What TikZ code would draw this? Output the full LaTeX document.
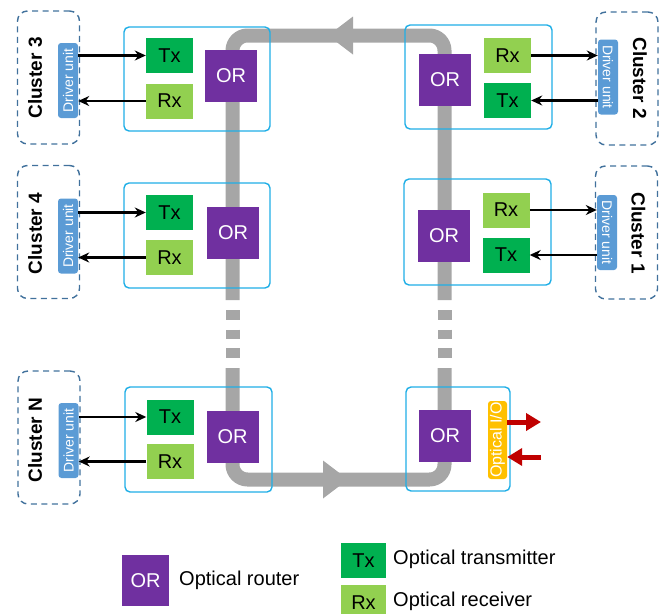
\documentclass[tikz,border=0pt]{standalone}
\usepackage{fontspec}
\usepackage{graphicx}
\setmainfont{Liberation Sans}
\usetikzlibrary{arrows.meta}

\definecolor{txgreen}{HTML}{00B050}
\definecolor{rxgreen}{HTML}{92D050}
\definecolor{orpurple}{HTML}{7030A0}
\definecolor{modcyan}{HTML}{1FAEE6}
\definecolor{dublue}{HTML}{5B9BD5}
\definecolor{clusterline}{HTML}{41719C}
\definecolor{ringgrey}{HTML}{A6A6A6}
\definecolor{ioamber}{HTML}{FFC000}
\definecolor{iored}{HTML}{C00000}

\tikzset{
  module/.style={draw=modcyan, line width=1.4pt, rounded corners=5pt, inner sep=0pt},
  txbox/.style={fill=txgreen, minimum width=47pt, minimum height=35pt, inner sep=0pt,
    font=\fontsize{20}{20}\selectfont},
  rxbox/.style={txbox, fill=rxgreen},
  orbox/.style={fill=orpurple, text=white, minimum width=52pt, minimum height=52pt, inner sep=0pt,
    font=\fontsize{20}{20}\selectfont},
  clusterbox/.style={draw=clusterline, line width=1.4pt, dash pattern=on 6pt off 4.5pt,
    rounded corners=10pt, minimum width=62pt, minimum height=133pt, inner sep=0pt},
  driver/.style={fill=dublue, text=white, rounded corners=3pt, minimum width=20pt,
    minimum height=75pt, inner sep=0pt, font=\fontsize{14}{14}\selectfont},
  clabel/.style={font=\bfseries\fontsize{19}{19}\selectfont, inner sep=0pt},
  blk/.style={line width=2.2pt, -{Stealth[length=11pt,width=10pt]}},
  ring/.style={draw=ringgrey, line width=14pt, rounded corners=15pt},
  ringdash/.style={draw=ringgrey, line width=14pt},
  redarrow/.style={draw=iored, line width=5pt, -{Triangle[length=15pt,width=17pt]}},
  legtext/.style={anchor=west, font=\fontsize{20}{20}\selectfont, inner sep=0pt},
}

\begin{document}
\begin{tikzpicture}[x=1pt,y=-1pt]
\useasboundingbox (0,0) rectangle (665,614);

% optical ring, drawn first so that routers sit on top of it
\draw[ring] (232.5,300) -- (232.5,35.5) -- (444.5,35.5) -- (444.5,300);
\draw[ring] (232.5,368) -- (232.5,479.5) -- (444.5,479.5) -- (444.5,368);
\foreach \x in {232.5,444.5}{
  \draw[ringdash] (\x,310) -- (\x,320);
  \draw[ringdash] (\x,329.5) -- (\x,338.5);
  \draw[ringdash] (\x,348) -- (\x,358);
}
% direction heads on the ring
\fill[ringgrey] (328,35.5) -- (353,16.5) -- (353,54.5) -- cycle;
\fill[ringgrey] (348,479.5) -- (323,460.5) -- (323,498.5) -- cycle;

% module outlines
\node[module, minimum width=146pt, minimum height=104pt] (mTL) at (197,79) {};
\node[module, minimum width=147pt, minimum height=104pt] (mTR) at (478.5,77) {};
\node[module, minimum width=146pt, minimum height=105pt] (mML) at (197,235.5) {};
\node[module, minimum width=147pt, minimum height=106pt] (mMR) at (477.5,232) {};
\node[module, minimum width=147pt, minimum height=105pt] (mBL) at (198.5,439.5) {};
\node[module, minimum width=104pt, minimum height=104pt] (mBR) at (458,439) {};

% optical routers
\node[orbox] (or3) at (231,76) {OR};
\node[orbox] (or2) at (445,80) {OR};
\node[orbox] (or4) at (233,233) {OR};
\node[orbox] (or1) at (444,235.5) {OR};
\node[orbox] (orN) at (232.5,437) {OR};
\node[orbox] (orIO) at (445,436) {OR};

% transmitters and receivers
\node[txbox] (tx3) at (169.5,55.5) {Tx};
\node[rxbox] (rx3) at (169.5,101) {Rx};
\node[txbox] (tx4) at (169.5,212.5) {Tx};
\node[rxbox] (rx4) at (169.5,257.5) {Rx};
\node[txbox] (txN) at (170,417) {Tx};
\node[rxbox] (rxN) at (170,461.5) {Rx};
\node[rxbox] (rx2) at (507.5,55.5) {Rx};
\node[txbox] (tx2) at (507.5,100.5) {Tx};
\node[rxbox] (rx1) at (506,210) {Rx};
\node[txbox] (tx1) at (506,255) {Tx};

% optical I/O port
\node[fill=ioamber, text=white, rounded corners=3pt, minimum width=19pt, minimum height=78pt,
  inner sep=0pt, font=\fontsize{16}{16}\selectfont] (oio) at (497.5,440)
  {\rotatebox{90}{Optical I/O}};
\coordinate (ioout) at (541,422);
\coordinate (ioin) at (541,457);
\draw[redarrow] (oio.east |- ioout) -- (ioout);
\draw[redarrow] (ioin) -- (oio.east |- ioin);

% clusters
\node[clusterbox] (c3) at (48.5,77.5) {};
\node[clusterbox] (c4) at (48.5,232) {};
\node[clusterbox] (cN) at (49,437.5) {};
\node[clusterbox] (c2) at (627,78.5) {};
\node[clusterbox] (c1) at (626.5,232.5) {};

\node[clabel] at (35,78) {\rotatebox{90}{Cluster 3}};
\node[clabel] at (35,233.5) {\rotatebox{90}{Cluster 4}};
\node[clabel] at (35,440) {\rotatebox{90}{Cluster N}};
\node[clabel] at (640,78) {\rotatebox{-90}{Cluster 2}};
\node[clabel] at (638.5,233) {\rotatebox{-90}{Cluster 1}};

\node[driver] (du3) at (68,80.5) {\rotatebox{90}{Driver unit}};
\node[driver] (du4) at (68,236) {\rotatebox{90}{Driver unit}};
\node[driver] (duN) at (68.5,440.5) {\rotatebox{90}{Driver unit}};
\node[driver] (du2) at (608,77) {\rotatebox{-90}{Driver unit}};
\node[driver] (du1) at (607,232.5) {\rotatebox{-90}{Driver unit}};

% driver links
\draw[blk] (du3.east |- tx3.west) -- (tx3.west);
\draw[blk] (rx3.west) -- (du3.east |- rx3.west);
\draw[blk] (du4.east |- tx4.west) -- (tx4.west);
\draw[blk] (rx4.west) -- (du4.east |- rx4.west);
\draw[blk] (duN.east |- txN.west) -- (txN.west);
\draw[blk] (rxN.west) -- (duN.east |- rxN.west);
\draw[blk] (rx2.east) -- (du2.west |- rx2.east);
\draw[blk] (du2.west |- tx2.east) -- (tx2.east);
\draw[blk] (rx1.east) -- (du1.west |- rx1.east);
\draw[blk] (du1.west |- tx1.east) -- (tx1.east);

% legend
\node[orbox, minimum width=47pt, minimum height=51pt] (legOR) at (145.5,580.5) {OR};
\node[legtext] (legORt) at (179,580) {Optical router};
\node[txbox, minimum width=45pt] (legTx) at (363.5,560.5) {Tx};
\node[legtext] (legTxt) at (393,559) {Optical transmitter};
\node[rxbox, minimum width=45pt] (legRx) at (363.5,602.5) {Rx};
\node[legtext] (legRxt) at (393,601) {Optical receiver};
\end{tikzpicture}
\end{document}
